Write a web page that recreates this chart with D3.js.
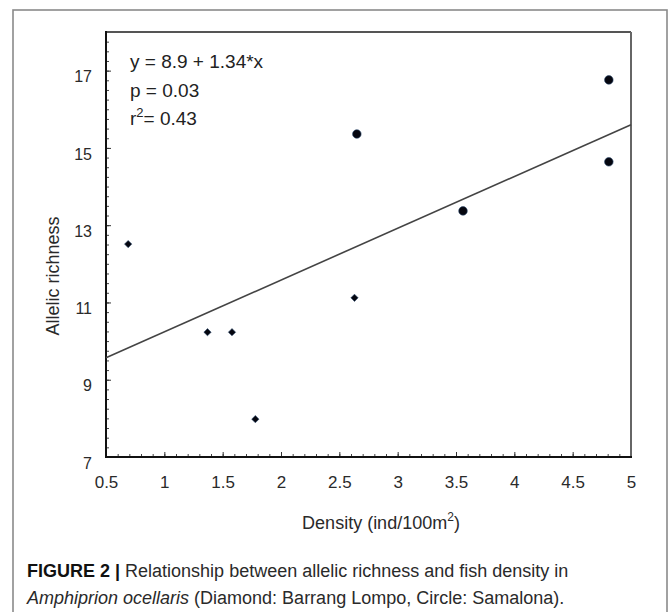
<!DOCTYPE html>
<html>
<head>
<meta charset="utf-8">
<script src="https://cdn.jsdelivr.net/npm/d3@7"></script>
<style>
  html, body { margin: 0; padding: 0; background: #fff; }
  svg { display: block; }
  text { font-family: "Liberation Sans", Arial, sans-serif; }
</style>
</head>
<body>
<svg id="chart" width="669" height="612"></svg>
<script>
// ---- data ----
const diamondX = [0.69, 1.37, 1.58, 1.78, 2.63];
const diamondY = [12.51, 10.23, 10.23, 7.98, 11.12];
const circleX = [2.65, 3.56, 4.81, 4.81];
const circleY = [15.36, 13.37, 14.64, 16.76];
const fitIntercept = 8.9;
const fitSlope = 1.34;
const xTicks = [0.5, 1, 1.5, 2, 2.5, 3, 3.5, 4, 4.5, 5];
const yTicks = [7, 9, 11, 13, 15, 17];
const xDomain = [0.5, 5];
const yDomain = [7, 18];
const statLines = ["y = 8.9 + 1.34*x", "p = 0.03", "r2= 0.43"];

const svg = d3.select("#chart");
const m = { left: 106, top: 32, right: 631, bottom: 457 };

// outer figure frame
svg.append("rect")
  .attr("x", 13).attr("y", 10).attr("width", 654).attr("height", 620)
  .attr("fill", "none").attr("stroke", "#8a8a8a").attr("stroke-width", 1.6);

const x = d3.scaleLinear().domain(xDomain).range([m.left, m.right]);
const y = d3.scaleLinear().domain(yDomain).range([m.bottom, m.top]);

// minor ticks
const xMinor = d3.range(5, 51).map(d => d / 10);
const yMinor = d3.range(28, 73).map(d => d / 4);
svg.append("g").attr("transform", `translate(0,${m.bottom})`)
  .call(d3.axisBottom(x).tickValues(xMinor).tickSize(-3).tickFormat(""))
  .call(g => g.select(".domain").remove())
  .selectAll("line").attr("stroke", "#444");
svg.append("g").attr("transform", `translate(${m.left},0)`)
  .call(d3.axisLeft(y).tickValues(yMinor).tickSize(-3).tickFormat(""))
  .call(g => g.select(".domain").remove())
  .selectAll("line").attr("stroke", "#444");

// major axes
const gx = svg.append("g").attr("transform", `translate(0,${m.bottom})`)
  .call(d3.axisBottom(x).tickValues(xTicks).tickSize(-5).tickPadding(19)
    .tickFormat(d3.format("")));
gx.select(".domain").remove();
gx.selectAll("line").attr("stroke", "#333");
gx.selectAll("text").attr("font-size", 17).attr("fill", "#2a2a2a");

const gy = svg.append("g").attr("transform", `translate(${m.left},0)`)
  .call(d3.axisLeft(y).tickValues(yTicks).tickSize(-5).tickPadding(14));
gy.select(".domain").remove();
gy.selectAll("line").attr("stroke", "#333");
gy.selectAll("text").attr("font-size", 16).attr("fill", "#2a2a2a").attr("dy", "0.7em");

// plot box
svg.append("line").attr("x1", m.left).attr("x2", m.right).attr("y1", m.top).attr("y2", m.top)
  .attr("stroke", "#555").attr("stroke-width", 2);
svg.append("line").attr("x1", m.right).attr("x2", m.right).attr("y1", m.top).attr("y2", m.bottom)
  .attr("stroke", "#666").attr("stroke-width", 2);
svg.append("line").attr("x1", m.left).attr("x2", m.right + 1).attr("y1", m.bottom).attr("y2", m.bottom)
  .attr("stroke", "#111").attr("stroke-width", 2.2);
svg.append("line").attr("x1", m.left).attr("x2", m.left).attr("y1", m.top - 1).attr("y2", m.bottom + 1)
  .attr("stroke", "#111").attr("stroke-width", 2);

// regression line
svg.append("line")
  .attr("x1", x(xDomain[0])).attr("y1", y(fitIntercept + fitSlope * xDomain[0]))
  .attr("x2", x(xDomain[1])).attr("y2", y(fitIntercept + fitSlope * xDomain[1]))
  .attr("stroke", "#444").attr("stroke-width", 1.6);

// diamonds
const diamonds = diamondX.map((d, i) => ({ x: d, y: diamondY[i] }));
svg.append("g").selectAll("path").data(diamonds).join("path")
  .attr("d", d3.symbol(d3.symbolDiamond2, 34))
  .attr("transform", d => `translate(${x(d.x)},${y(d.y)})`)
  .attr("fill", "#05060f").attr("stroke", "#2b4a6e").attr("stroke-width", 0.6);

// circles
const circles = circleX.map((d, i) => ({ x: d, y: circleY[i] }));
svg.append("g").selectAll("circle").data(circles).join("circle")
  .attr("cx", d => x(d.x)).attr("cy", d => y(d.y)).attr("r", 4.3)
  .attr("fill", "#05060f").attr("stroke", "#2b4a6e").attr("stroke-width", 0.6);

// stats text
const st = svg.append("g").attr("font-size", 19).attr("fill", "#222");
st.append("text").attr("x", 130).attr("y", 68).text(statLines[0]);
st.append("text").attr("x", 130).attr("y", 97).text(statLines[1]);
const r2 = st.append("text").attr("x", 130).attr("y", 125);
r2.append("tspan").text("r");
r2.append("tspan").attr("font-size", 13).attr("dy", -8).text("2");
r2.append("tspan").attr("dy", 8).text("= 0.43");

// axis titles
svg.append("text").attr("x", 381).attr("y", 529).attr("text-anchor", "middle")
  .attr("font-size", 18).attr("fill", "#2a2a2a")
  .call(t => {
    t.append("tspan").text("Density (ind/100m");
    t.append("tspan").attr("font-size", 12).attr("dy", -8).text("2");
    t.append("tspan").attr("dy", 8).text(")");
  });
svg.append("text")
  .attr("transform", `translate(59,276) rotate(-90)`)
  .attr("text-anchor", "middle").attr("font-size", 18).attr("fill", "#2a2a2a")
  .text("Allelic richness");

// caption
const cap = svg.append("g").attr("font-size", 18).attr("fill", "#2a2a2a");
const c1 = cap.append("text").attr("x", 27).attr("y", 577);
c1.append("tspan").attr("font-weight", "bold").attr("fill", "#111").text("FIGURE 2 | ");
c1.append("tspan").text("Relationship between allelic richness and fish density in");
const c2 = cap.append("text").attr("x", 27).attr("y", 604);
c2.append("tspan").attr("font-style", "italic").text("Amphiprion ocellaris");
c2.append("tspan").text(" (Diamond: Barrang Lompo, Circle: Samalona).");
</script>
</body>
</html>
